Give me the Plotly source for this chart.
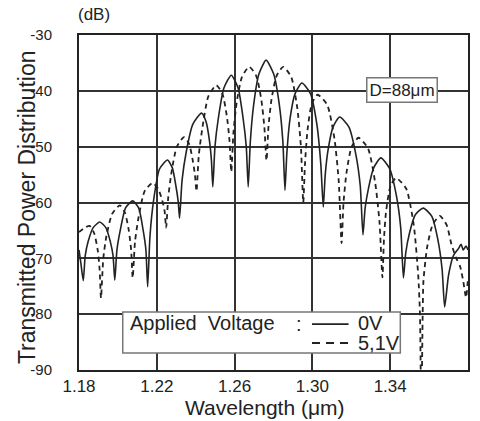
import plotly.graph_objects as go

# 0V (solid) series: wavelength (um) and transmitted power (dB)
wl_0v = [1.1800, 1.1810, 1.1822,
         1.1832, 1.1847, 1.1873, 1.1907, 1.1938, 1.1961, 1.1975, 1.1984,
         1.1995, 1.2012, 1.2039, 1.2076, 1.2107, 1.2130, 1.2144, 1.2153,
         1.2165, 1.2184, 1.2214, 1.2255, 1.2280, 1.2298, 1.2310, 1.2317,
         1.2330, 1.2351, 1.2385, 1.2430, 1.2453, 1.2471, 1.2481, 1.2488,
         1.2499, 1.2516, 1.2545, 1.2583, 1.2618, 1.2644, 1.2660, 1.2670,
         1.2681, 1.2698, 1.2725, 1.2762, 1.2801, 1.2830, 1.2848, 1.2859,
         1.2869, 1.2885, 1.2911, 1.2946, 1.2990, 1.3023, 1.3043, 1.3056,
         1.3066, 1.3081, 1.3106, 1.3140, 1.3188, 1.3224, 1.3246, 1.3260,
         1.3271, 1.3288, 1.3315, 1.3352, 1.3398, 1.3433, 1.3454, 1.3468,
         1.3480, 1.3499, 1.3529, 1.3570, 1.3614, 1.3647, 1.3667, 1.3680,
         1.3700, 1.3725, 1.3750, 1.3765, 1.3775, 1.3790, 1.3800]
db_0v = [-68.5, -71.0, -74.0,
         -69.5, -67.0, -64.5, -63.5, -64.5, -67.0, -69.5, -73.9,
         -68.5, -65.0, -61.0, -59.7, -61.0, -65.0, -68.5, -75.1,
         -66.0, -59.5, -54.0, -52.4, -53.8, -57.0, -59.8, -62.8,
         -56.0, -51.0, -46.0, -44.0, -45.5, -49.0, -52.5, -57.2,
         -50.0, -45.0, -39.5, -37.2, -39.5, -45.0, -50.0, -57.2,
         -49.0, -42.5, -37.0, -34.5, -37.0, -42.5, -49.0, -57.8,
         -51.0, -45.0, -40.5, -38.6, -40.5, -46.0, -53.0, -60.8,
         -55.0, -50.5, -46.5, -44.7, -46.5, -51.5, -57.0, -65.8,
         -61.0, -57.5, -53.8, -52.0, -54.0, -59.0, -64.5, -73.5,
         -69.0, -65.5, -62.2, -61.0, -62.5, -67.0, -72.0, -78.7,
         -73.0, -69.5, -68.3, -67.5, -68.5, -67.8, -68.5]

# 5,1V (dashed) series
wl_51v = [1.1800, 1.1830, 1.1855, 1.1878, 1.1896, 1.1906, 1.1913,
          1.1925, 1.1941, 1.1971, 1.2010, 1.2036, 1.2056, 1.2068, 1.2076,
          1.2088, 1.2107, 1.2137, 1.2178, 1.2206, 1.2227, 1.2240, 1.2248,
          1.2259, 1.2276, 1.2303, 1.2340, 1.2366, 1.2385, 1.2396, 1.2404,
          1.2416, 1.2435, 1.2465, 1.2506, 1.2537, 1.2560, 1.2574, 1.2583,
          1.2594, 1.2611, 1.2638, 1.2675, 1.2711, 1.2737, 1.2753, 1.2764,
          1.2774, 1.2790, 1.2816, 1.2850, 1.2891, 1.2922, 1.2941, 1.2953,
          1.2962, 1.2975, 1.2997, 1.3027, 1.3076, 1.3113, 1.3135, 1.3150,
          1.3160, 1.3176, 1.3202, 1.3237, 1.3286, 1.3323, 1.3345, 1.3360,
          1.3368, 1.3379, 1.3402, 1.3430, 1.3482, 1.3521, 1.3544, 1.3553, 1.3560,
          1.3567, 1.3571, 1.3590, 1.3618, 1.3655, 1.3690, 1.3715, 1.3740,
          1.3760, 1.3775, 1.3790, 1.3800]
db_51v = [-65.3, -64.5, -64.2, -65.5, -68.5, -72.0, -77.1,
          -70.0, -66.0, -62.0, -60.5, -61.8, -65.0, -68.5, -73.5,
          -67.0, -62.5, -58.0, -56.5, -57.5, -59.5, -61.5, -64.5,
          -59.0, -54.5, -50.0, -48.3, -49.5, -52.5, -55.0, -58.0,
          -51.5, -46.5, -41.0, -39.0, -40.5, -44.5, -49.0, -54.5,
          -47.5, -42.0, -37.5, -35.7, -37.3, -41.5, -46.5, -52.5,
          -46.5, -41.5, -37.3, -35.7, -37.5, -43.0, -50.0, -60.0,
          -53.0, -47.0, -42.3, -40.7, -42.5, -48.5, -56.0, -67.3,
          -60.0, -54.5, -50.0, -48.4, -50.3, -56.5, -63.5, -73.4,
          -66.5, -61.5, -57.0, -55.6, -57.5, -64.0, -73.0, -80.0, -98.0,
          -80.0, -74.0, -68.0, -64.0, -62.4, -64.0, -67.5, -70.0,
          -71.5, -74.0, -77.0, -73.5]

series_names = ["0V", "5,1V"]
legend_title = "Applied\u00a0\u00a0Voltage"

x_ticks = [1.18, 1.22, 1.26, 1.30, 1.34, 1.38]
x_tick_labels = ["1.18", "1.22", "1.26", "1.30", "1.34", "1.38"]
y_ticks = [-90, -80, -70, -60, -50, -40, -30]
y_tick_labels = ["-90", "-80", "-70", "-60", "-50", "-40", "-30"]

FONT = "Liberation Sans, Arial, sans-serif"
INK = "#222222"
DASH = "5px,4px"

fig = go.Figure()
fig.add_trace(go.Scatter(x=wl_0v, y=db_0v, mode="lines", name=series_names[0],
                         line=dict(color=INK, width=1.6, shape="spline", smoothing=0.6)))
fig.add_trace(go.Scatter(x=wl_51v, y=db_51v, mode="lines", name=series_names[1],
                         line=dict(color=INK, width=1.8, dash=DASH, shape="spline", smoothing=0.6)))

# legend box drawn with shapes / annotations (paper coordinates)
lx0, lx1, ly0, ly1 = 0.1125, 0.826, 0.0507, 0.173
row_y = [0.137, 0.0806]
seg_x0, seg_x1 = 0.599, 0.693

shapes = [
    dict(type="rect", xref="paper", yref="paper", x0=lx0, x1=lx1, y0=ly0, y1=ly1,
         fillcolor="white", line=dict(color="#777777", width=1.5), layer="above"),
    dict(type="line", xref="paper", yref="paper", x0=seg_x0, x1=seg_x1,
         y0=row_y[0], y1=row_y[0], line=dict(color=INK, width=1.8), layer="above"),
    dict(type="line", xref="paper", yref="paper", x0=seg_x0, x1=seg_x1,
         y0=row_y[1], y1=row_y[1], line=dict(color=INK, width=1.8, dash="8px,6px"), layer="above"),
]

fig.update_layout(
    width=480, height=421,
    margin=dict(l=79, r=10, t=35, b=51),
    paper_bgcolor="white", plot_bgcolor="white",
    font=dict(family=FONT, color=INK),
    showlegend=False,
    shapes=shapes,
    xaxis=dict(
        range=[1.18, 1.38], tickvals=x_ticks, ticktext=x_tick_labels,
        showgrid=True, gridcolor="#333333", gridwidth=1.5,
        showline=True, linecolor=INK, linewidth=2, mirror=True,
        ticks="", zeroline=False,
        tickfont=dict(size=17, family=FONT, color=INK),
    ),
    yaxis=dict(
        range=[-90, -30], tickvals=y_ticks, ticktext=y_tick_labels,
        showgrid=True, gridcolor="#333333", gridwidth=1.5,
        showline=True, linecolor=INK, linewidth=2, mirror=True,
        ticks="", zeroline=False, ticklabelstandoff=22,
        tickfont=dict(size=15, family=FONT, color=INK),
    ),
    annotations=[
        dict(text="(dB)", xref="paper", yref="paper", x=0.038, y=1.06,
             xanchor="center", yanchor="middle", showarrow=False,
             font=dict(size=17, family=FONT, color=INK)),
        dict(text="Transmitted Power Distribution", xref="paper", yref="paper",
             x=-0.133, y=0.487, xanchor="center", yanchor="middle", textangle=-90,
             showarrow=False, font=dict(size=23, family=FONT, color=INK)),
        dict(text="Wavelength (\u03bcm)", xref="paper", yref="paper",
             x=0.478, y=-0.113, xanchor="center", yanchor="middle",
             showarrow=False, font=dict(size=21, family=FONT, color=INK)),
        dict(text="D=88\u03bcm", xref="paper", yref="paper", x=0.831, y=0.836,
             xanchor="center", yanchor="middle", showarrow=False,
             bgcolor="white", bordercolor="#777777", borderwidth=1.5, borderpad=2,
             font=dict(size=17, family=FONT, color=INK)),
        dict(text=legend_title, xref="paper", yref="paper", x=0.125, y=row_y[0] + 0.003,
             xanchor="left", yanchor="middle", showarrow=False,
             font=dict(size=20, family=FONT, color=INK)),
        dict(text=":", xref="paper", yref="paper", x=0.565, y=row_y[0],
             xanchor="center", yanchor="middle", showarrow=False,
             font=dict(size=20, family=FONT, color=INK)),
        dict(text=series_names[0], xref="paper", yref="paper", x=0.711, y=row_y[0] + 0.003,
             xanchor="left", yanchor="middle", showarrow=False,
             font=dict(size=20, family=FONT, color=INK)),
        dict(text=series_names[1], xref="paper", yref="paper", x=0.711, y=row_y[1],
             xanchor="left", yanchor="middle", showarrow=False,
             font=dict(size=20, family=FONT, color=INK)),
    ],
)

fig.write_html("out.html")
